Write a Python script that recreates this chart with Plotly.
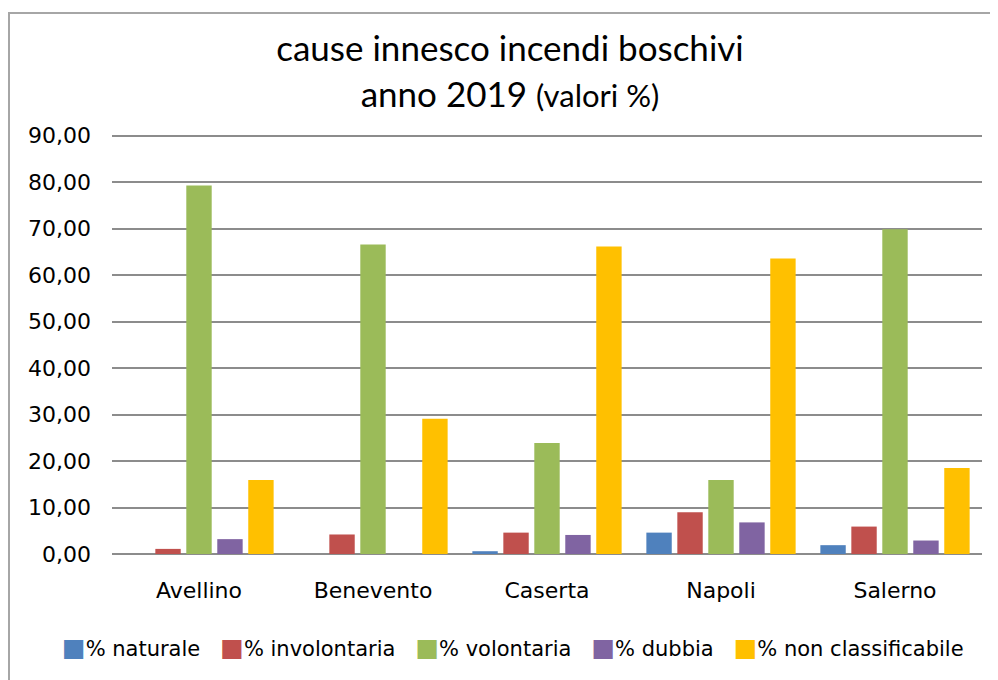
import plotly.graph_objects as go

province = ['Avellino', 'Benevento', 'Caserta', 'Napoli', 'Salerno']

naturale = [0.0, 0.0, 0.6, 4.6, 1.9]
involontaria = [1.1, 4.2, 4.6, 9.0, 5.9]
volontaria = [79.3, 66.6, 23.9, 15.9, 69.9]
dubbia = [3.2, 0.0, 4.1, 6.8, 2.9]
non_classificabile = [15.9, 29.1, 66.2, 63.6, 18.5]

serie = [
    ('% naturale', naturale, '#4F81BD'),
    ('% involontaria', involontaria, '#C0504D'),
    ('% volontaria', volontaria, '#9BBB59'),
    ('% dubbia', dubbia, '#8064A2'),
    ('% non classificabile', non_classificabile, '#FFC000'),
]

# la pagina html ha 8px di margine sul body: tutte le posizioni sono spostate di -8px
L, R, T, B = 104, 24, 125, 134
larg = 998 - L - R
alt = 680 - T - B

fig = go.Figure()
for nome, valori, colore in serie:
    fig.add_trace(go.Bar(
        x=province,
        y=valori,
        name=nome,
        marker=dict(color=colore, line=dict(width=0)),
    ))

# legenda compatta come in Excel: quadratino colorato attaccato al testo
legenda = '\u00a0\u00a0\u00a0'.join(
    f'<span style="color:{c};font-size:25px">■</span>{n}' for n, _, c in serie
)

fig.update_layout(
    width=998,
    height=680,
    paper_bgcolor='white',
    plot_bgcolor='white',
    barmode='group',
    bargap=0.11,
    bargroupgap=0.18,
    separators=',.',
    showlegend=False,
    margin=dict(l=L, r=R, t=T, b=B, autoexpand=False),
    title=dict(
        text='cause innesco incendi boschivi<br>anno 2019 <span style="font-size:31px">(valori %)</span>',
        x=502 / 998,
        xanchor='center',
        y=1 - 53 / 680,
        yanchor='middle',
        font=dict(family='Lato, Roboto, sans-serif', size=35, color='black'),
    ),
    font=dict(family='DejaVu Sans, Verdana, sans-serif', size=22, color='black'),
    annotations=[dict(
        text=legenda, xref='paper', yref='paper',
        x=(505 - L) / larg, y=(680 - B - 639) / alt,
        xanchor='center', yanchor='middle', showarrow=False,
        font=dict(size=21),
    )],
    shapes=[dict(
        type='rect', xref='paper', yref='paper',
        x0=(1 - L) / larg, x1=1.2, y0=-0.5, y1=(680 - B - 5) / alt,
        line=dict(color='#a6a6a6', width=2), fillcolor='rgba(0,0,0,0)',
        layer='below',
    )],
)

fig.update_yaxes(
    range=[0, 90.6],
    dtick=10,
    tickformat='.2f',
    showgrid=True,
    gridcolor='#8c8c8c',
    gridwidth=1.5,
    zeroline=True,
    zerolinecolor='#8c8c8c',
    zerolinewidth=1.5,
    showline=False,
    ticks='',
    ticklabelstandoff=20,
    fixedrange=True,
)
fig.update_xaxes(
    showgrid=False,
    showline=False,
    ticks='',
    ticklabelstandoff=21,
    fixedrange=True,
)

fig.write_html('out.html')
